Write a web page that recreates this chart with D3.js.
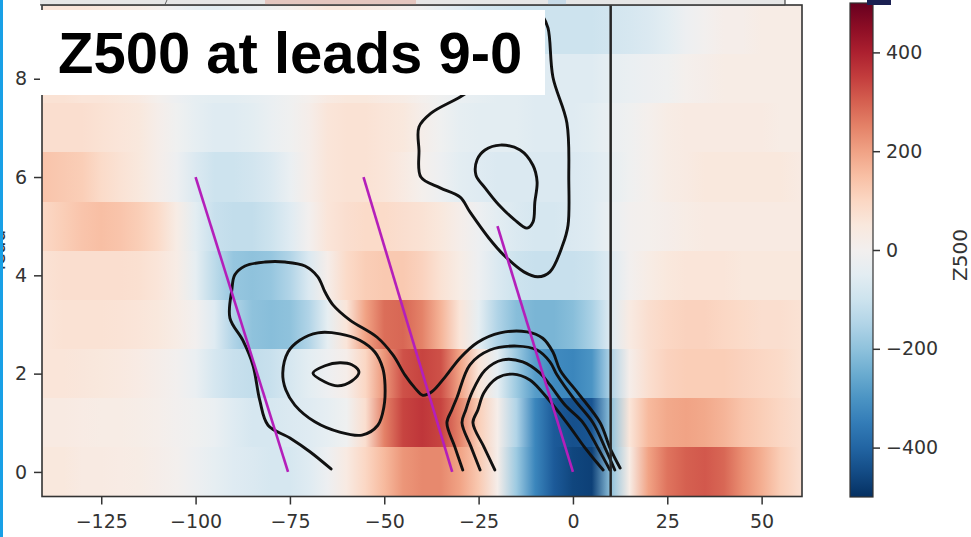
<!DOCTYPE html>
<html>
<head>
<meta charset="utf-8">
<script src="https://cdn.jsdelivr.net/npm/d3@7"></script>
<style>
  html, body { margin: 0; padding: 0; background: #fff; }
  svg { display: block; }
  .tick text { font-family: "DejaVu Sans", sans-serif; font-size: 19px; fill: #333; }
  .tick line { stroke: #333; stroke-width: 1.5; }
</style>
</head>
<body>
<svg id="chart" width="971" height="537"></svg>
<script>
// Longitudes of the Z500 anomaly columns (degrees relative to the reference point)
const lons = [-140,-135,-130,-125,-120,-115,-110,-105,-100,-95,-90,-85,-80,-75,-70,-65,-60,-55,-50,-45,
              -40,-35,-30,-25,-20,-15,-10,-5,0,5,10,15,20,25,30,35,40,45,50,55,60];

// Composite Z500 anomaly for each lead (one row per lead)
const lead0 = [50,50,40,40,35,30,20,5,-20,-40,-60,-70,-80,-80,-60,-20,40,100,160,220,240,240,200,130,20,-180,-330,-420,-460,-470,-200,30,200,270,300,310,290,230,180,120,80];
const lead1 = [40,40,35,30,30,25,15,0,-10,-30,-60,-80,-80,-70,-60,-40,-10,80,250,340,360,340,250,120,20,-150,-330,-420,-440,-430,-200,60,160,190,200,190,170,140,120,100,80];
const lead2 = [60,60,55,50,45,35,20,0,-30,-80,-110,-120,-110,-80,-50,-20,20,100,220,320,340,320,200,60,-40,-180,-280,-320,-330,-300,-150,20,80,110,120,120,120,110,100,90,70];
const lead3 = [60,70,70,70,65,60,50,30,0,-60,-150,-200,-210,-200,-150,-40,60,200,280,290,250,170,60,-40,-150,-210,-230,-230,-210,-160,-60,40,80,100,110,110,100,90,80,80,70];
const lead4 = [70,80,80,80,80,75,60,30,-40,-130,-190,-200,-190,-150,-70,20,90,120,130,130,110,70,30,-20,-70,-100,-110,-110,-110,-100,-60,0,30,50,60,60,60,50,50,50,50];
const lead5 = [100,120,140,150,140,120,90,30,-50,-110,-120,-120,-100,-60,0,60,80,90,90,80,70,50,20,-20,-50,-70,-80,-80,-70,-60,-30,0,10,20,30,40,40,40,40,40,40];
const lead6 = [140,130,120,90,70,50,20,-20,-70,-100,-100,-90,-70,-30,20,60,70,70,60,40,10,-20,-50,-60,-70,-70,-70,-70,-70,-60,-40,-10,10,30,40,50,50,50,50,50,40];
const lead7 = [80,80,80,70,60,50,20,-10,-40,-60,-60,-50,-30,-10,20,60,70,70,60,50,20,-10,-40,-50,-50,-50,-60,-60,-60,-50,-30,-10,10,30,40,40,40,40,40,30,30];
const lead8 = [70,70,60,60,50,40,10,-20,-40,-50,-50,-40,-30,-10,10,40,50,50,40,30,10,-10,-30,-40,-50,-50,-60,-60,-60,-60,-40,-30,-20,-10,10,20,30,30,30,30,30];
const lead9 = [60,60,60,50,40,30,10,-20,-40,-50,-40,-30,-10,10,30,50,50,40,30,10,-10,-40,-60,-80,-90,-100,-100,-100,-100,-100,-90,-80,-70,-50,-20,0,20,20,30,30,30];
const leadRows = [lead0, lead1, lead2, lead3, lead4, lead5, lead6, lead7, lead8, lead9];

// Black contours of the second composite field, as [lon, lead] vertices
const contourOuter = [[-64.1,0.06],[-69.7,0.41],[-75.0,0.69],[-80.8,0.95],[-83.0,1.46],[-84.8,2.17],[-87.5,2.68],
  [-90.9,3.13],[-90.4,3.70],[-89.6,4.01],[-86.9,4.19],[-81.6,4.27],[-76.3,4.27],[-71.0,4.19],[-67.6,3.97],
  [-65.7,3.66],[-63.6,3.40],[-59.1,3.09],[-51.9,2.74],[-47.7,2.38],[-44.5,1.97],[-41.9,1.71],[-39.8,1.56],
  [-37.4,1.63],[-33.9,1.93],[-29.9,2.32],[-25.2,2.64],[-19.3,2.83],[-12.2,2.85],[-8.0,2.72],[-5.3,2.44],
  [-3.4,2.07],[1.3,1.61],[7.2,1.00],[9.8,0.49],[12.5,0.08]];
const contourArch1 = [[-29.2,0.04],[-31.3,0.51],[-33.4,1.0],[-32.1,1.26],[-30.7,1.52],[-27.3,2.18],[-22.0,2.48],
  [-14.8,2.56],[-9.5,2.48],[-6.1,2.24],[-4.2,1.97],[0.5,1.46],[5.3,1.0],[8.5,0.49],[11.1,0.04]];
const contourArch2 = [[-24.6,0.04],[-27.0,0.51],[-29.4,1.0],[-28.4,1.26],[-26.8,1.61],[-23.3,2.07],[-18.6,2.28],
  [-13.3,2.24],[-8.7,2.01],[-6.1,1.77],[-2.1,1.36],[2.7,1.0],[6.6,0.49],[9.8,0.04]];
const contourArch3 = [[-20.7,0.04],[-23.6,0.51],[-26.5,1.0],[-25.2,1.26],[-23.6,1.61],[-20.1,1.91],[-15.9,1.99],
  [-11.4,1.87],[-8.0,1.61],[-1.6,1.0],[3.2,0.49],[8.0,0.04]];
const contourRing = [[-76.9,2.01],[-75.5,2.44],[-72.4,2.68],[-67.6,2.83],[-61.8,2.81],[-56.5,2.68],[-52.5,2.44],
  [-50.4,2.11],[-49.8,1.77],[-50.1,1.32],[-51.7,0.95],[-55.9,0.75],[-61.8,0.81],[-68.4,1.02],[-73.7,1.36],[-76.1,1.67]];
const contourEye = [[-68.9,2.01],[-65.7,2.16],[-61.8,2.22],[-58.6,2.18],[-56.7,2.03],[-58.6,1.85],[-62.3,1.75],[-65.7,1.83]];
const contourUpper = [[-23.3,7.97],[-29.9,7.63],[-37.6,7.30],[-40.8,7.02],[-40.8,6.55],[-40.3,6.00],[-35.2,5.78],
  [-29.9,5.59],[-27.3,5.29],[-22.3,4.76],[-18.3,4.41],[-13.0,4.07],[-9.3,3.97],[-6.1,4.07],[-2.7,4.62],
  [-1.3,5.02],[-1.1,5.94],[-1.6,7.10],[-5.3,8.03],[-6.6,9.03],[-8.2,9.30]];
const contourLoop = [[-25.4,6.35],[-23.3,6.55],[-19.3,6.65],[-14.0,6.55],[-10.6,6.24],[-9.5,5.90],[-10.1,5.49],
  [-10.6,5.08],[-12.2,4.96],[-15.6,5.14],[-19.6,5.43],[-23.3,5.78],[-25.7,6.04]];
const openContours = [contourOuter, contourArch1, contourArch2, contourArch3, contourUpper];
const closedContours = [contourRing, contourEye, contourLoop];

// Magenta phase-speed lines, [lon, lead] end points
const phaseLines = [[[-100,6],[-75.5,0]], [[-55.5,6],[-32,0]], [[-20,5],[0,0]]];
const refLon = 10;

const xTicks = [-125,-100,-75,-50,-25,0,25,50];
const yTicks = [0,2,4,6,8];
const cbTicks = [-400,-200,0,200,400];
const titleText = "Z500 at leads 9-0";
const cbLabel = "Z500";
const yLabel = "lead";

const svg = d3.select("#chart");
const defs = svg.append("defs");

const plot = { left: 42, right: 802, top: 5, bottom: 496.5 };
const x = d3.scaleLinear().domain([-140.7, 60.7]).range([plot.left, plot.right]);
const y = d3.scaleLinear().domain([-0.5, 9.5]).range([plot.bottom, plot.top]);
const color = d3.scaleSequential(d3.interpolateRdBu).domain([500, -500]).clamp(true);

defs.append("clipPath").attr("id", "plotClip")
  .append("rect")
  .attr("x", plot.left).attr("y", plot.top)
  .attr("width", plot.right - plot.left).attr("height", plot.bottom - plot.top);

// Each lead row is a horizontal band shaded along longitude
const x0 = x(lons[0]), x1 = x(lons[lons.length - 1]);
leadRows.forEach((vals, k) => {
  const g = defs.append("linearGradient")
    .attr("id", "lead" + k)
    .attr("gradientUnits", "userSpaceOnUse")
    .attr("x1", x0).attr("x2", x1).attr("y1", 0).attr("y2", 0);
  g.selectAll("stop").data(vals).join("stop")
    .attr("offset", (d, i) => (x(lons[i]) - x0) / (x1 - x0))
    .attr("stop-color", d => color(d));
});

const field = svg.append("g").attr("clip-path", "url(#plotClip)");
field.selectAll("rect.band").data(leadRows).join("rect")
  .attr("class", "band")
  .attr("x", plot.left)
  .attr("width", plot.right - plot.left)
  .attr("y", (d, k) => y(k + 0.5))
  .attr("height", (d, k) => y(k - 0.5) - y(k + 0.5))
  .attr("shape-rendering", "crispEdges")
  .attr("fill", (d, k) => `url(#lead${k})`);

const line = d3.line().x(d => x(d[0])).y(d => y(d[1])).curve(d3.curveCatmullRom.alpha(0.5));
const loop = d3.line().x(d => x(d[0])).y(d => y(d[1])).curve(d3.curveCatmullRomClosed.alpha(0.5));

field.selectAll("path.open").data(openContours).join("path")
  .attr("class", "open").attr("d", line)
  .attr("fill", "none").attr("stroke", "#111").attr("stroke-width", 2.9)
  .attr("stroke-linejoin", "round").attr("stroke-linecap", "round");
field.selectAll("path.closed").data(closedContours).join("path")
  .attr("class", "closed").attr("d", loop)
  .attr("fill", "none").attr("stroke", "#111").attr("stroke-width", 2.9)
  .attr("stroke-linejoin", "round");

field.selectAll("line.phase").data(phaseLines).join("line")
  .attr("class", "phase")
  .attr("x1", d => x(d[0][0])).attr("y1", d => y(d[0][1]))
  .attr("x2", d => x(d[1][0])).attr("y2", d => y(d[1][1]))
  .attr("stroke", "#b41fba").attr("stroke-width", 2.6);

field.append("line")
  .attr("x1", x(refLon)).attr("x2", x(refLon))
  .attr("y1", plot.top).attr("y2", plot.bottom)
  .attr("stroke", "#262626").attr("stroke-width", 2.5);

// Frame and axes
svg.append("rect")
  .attr("x", plot.left).attr("y", plot.top)
  .attr("width", plot.right - plot.left).attr("height", plot.bottom - plot.top)
  .attr("fill", "none").attr("stroke", "#333").attr("stroke-width", 1.6);

const xAxis = svg.append("g").attr("transform", `translate(0,${plot.bottom})`)
  .call(d3.axisBottom(x).tickValues(xTicks).tickSize(8).tickPadding(10));
const yAxis = svg.append("g").attr("transform", `translate(${plot.left},0)`)
  .call(d3.axisLeft(y).tickValues(yTicks).tickFormat(d3.format("d")).tickSize(8).tickPadding(7));
[xAxis, yAxis].forEach(a => { a.select(".domain").remove(); a.attr("font-family", null).attr("font-size", null); });

svg.append("text")
  .attr("transform", "translate(5,250) rotate(-90)")
  .attr("text-anchor", "middle")
  .attr("font-family", "DejaVu Sans, sans-serif").attr("font-size", 19).attr("fill", "#333")
  .text(yLabel);

// Colour bar
const cb = { x: 850, w: 23, top: 3, bottom: 497 };
const cbY = d3.scaleLinear().domain([-500, 500]).range([cb.bottom, cb.top]);
const cbGrad = defs.append("linearGradient").attr("id", "cbGrad")
  .attr("x1", 0).attr("x2", 0).attr("y1", 1).attr("y2", 0);
cbGrad.selectAll("stop").data(d3.range(0, 1.0001, 0.05)).join("stop")
  .attr("offset", t => t)
  .attr("stop-color", t => color(-500 + 1000 * t));
svg.append("rect")
  .attr("x", cb.x).attr("y", cb.top).attr("width", cb.w).attr("height", cb.bottom - cb.top)
  .attr("fill", "url(#cbGrad)").attr("stroke", "#333").attr("stroke-width", 1.2);
const cbAxis = svg.append("g").attr("transform", `translate(${cb.x + cb.w},0)`)
  .call(d3.axisRight(cbY).tickValues(cbTicks).tickSize(7).tickPadding(6));
cbAxis.select(".domain").remove();
cbAxis.attr("font-family", null).attr("font-size", null);
svg.append("text")
  .attr("transform", "translate(967,255) rotate(-90)")
  .attr("text-anchor", "middle")
  .attr("font-family", "DejaVu Sans, sans-serif").attr("font-size", 20).attr("fill", "#333")
  .text(cbLabel);

// Panel strip along the top edge
const strip = svg.append("g");
strip.append("rect").attr("x", 40).attr("y", 0).attr("width", 745).attr("height", 4.5).attr("fill", "#e6e6e6");
strip.append("rect").attr("x", 265).attr("y", 0).attr("width", 151).attr("height", 4.5).attr("fill", "#e4c6bf");
strip.append("rect").attr("x", 548).attr("y", 0).attr("width", 18).attr("height", 4.5).attr("fill", "#c8dbe8");
strip.append("line").attr("x1", 167).attr("x2", 165).attr("y1", 0).attr("y2", 4.5).attr("stroke", "#666").attr("stroke-width", 1);
strip.append("line").attr("x1", 40).attr("x2", 785).attr("y1", 4.8).attr("y2", 4.8).attr("stroke", "#444").attr("stroke-width", 1.2);
strip.append("line").attr("x1", 785).attr("x2", 785).attr("y1", 0).attr("y2", 5).attr("stroke", "#444").attr("stroke-width", 1.2);
strip.append("rect").attr("x", 867).attr("y", 0).attr("width", 24).attr("height", 5).attr("fill", "#1b2052");

// Left accent bar
svg.append("rect").attr("x", 0).attr("y", 0).attr("width", 3).attr("height", 537).attr("fill", "#18a0e6");

// Title box
svg.append("rect").attr("x", 40).attr("y", 10).attr("width", 505).attr("height", 85).attr("fill", "#fff");
svg.append("text")
  .attr("x", 58).attr("y", 73)
  .attr("font-family", "Liberation Sans, Arial, sans-serif")
  .attr("font-weight", "bold").attr("font-size", 58).attr("fill", "#000")
  .text(titleText);
</script>
</body>
</html>
